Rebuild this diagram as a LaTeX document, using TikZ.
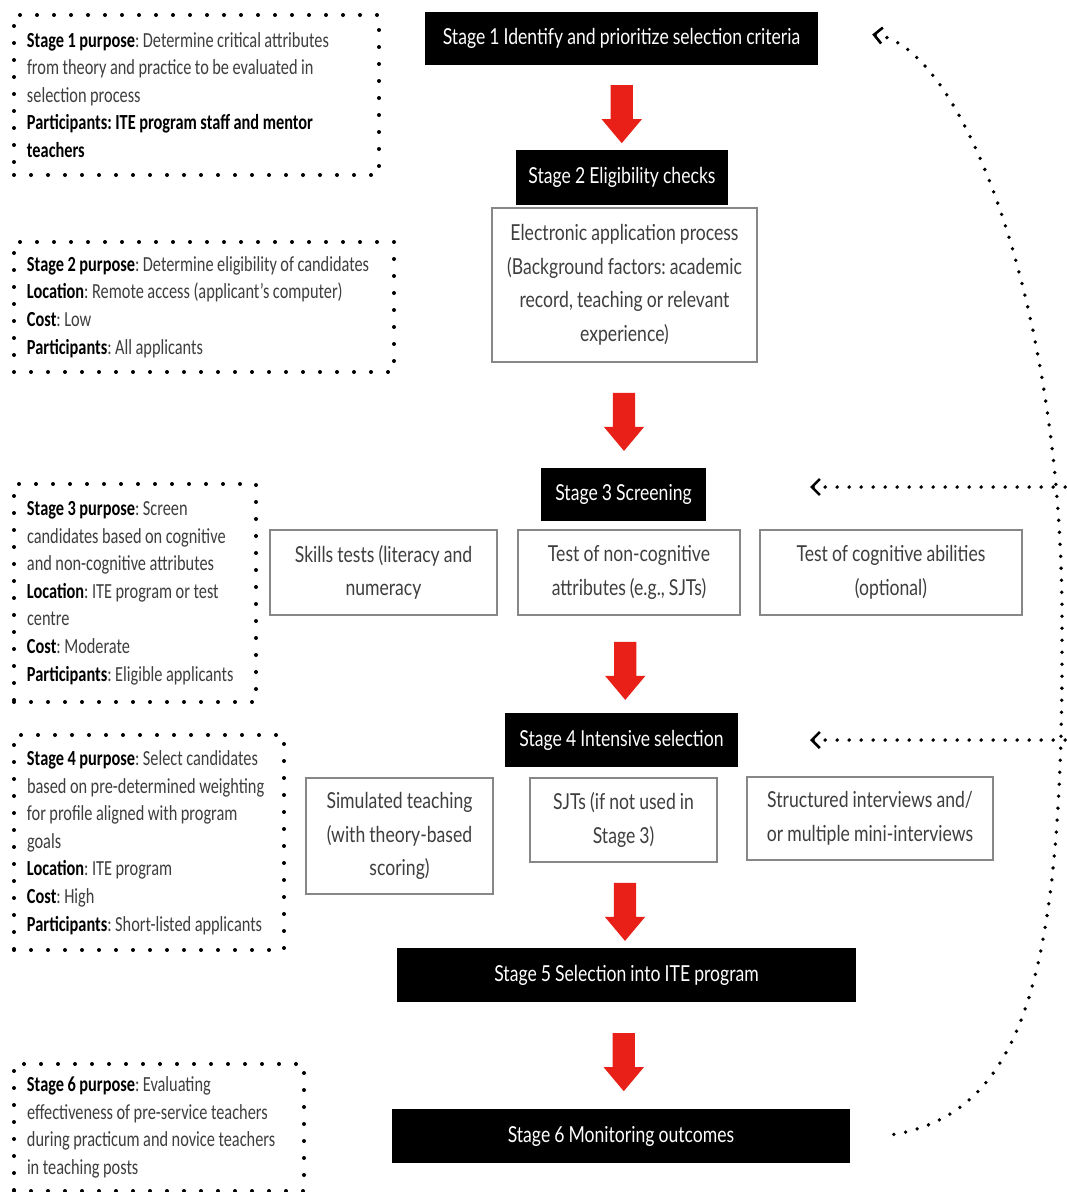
\documentclass[tikz,border=0pt]{standalone}
\usepackage{fontspec}
\setmainfont[FakeStretch=0.76,WordSpace=0.95]{Carlito}
\newfontfamily\gillfont[FakeStretch=0.8,WordSpace=0.9]{Lato}
\usetikzlibrary{
  arrows.meta,
  calc,
  positioning,
  shapes.arrows,
}
\definecolor{arrowred}{RGB}{232,32,24}
\definecolor{textgrey}{RGB}{62,62,62}
\definecolor{boxgrey}{RGB}{135,135,135}
\newcommand{\hd}[1]{\textcolor{black}{\textbf{#1}}}
\frenchspacing
\tikzstyle{stagebox} = [
  rectangle,
  fill=black,
  text=white,
  inner sep=0,
  font=\gillfont\fontsize{22}{26}\selectfont,
]
\tikzstyle{taskbox} = [
  rectangle,
  draw=boxgrey,
  line width=1.2pt,
  text=textgrey,
  align=flush center,
  inner sep=0,
  font=\gillfont\fontsize{22}{33.5}\selectfont,
]
\tikzstyle{notebox} = [
  rectangle,
  draw=black,
  line width=4pt,
  dash pattern=on 0pt off 17pt,
  line cap=round,
  anchor=north west,
  align=flush left,
  text=textgrey,
  inner xsep=13,
  inner ysep=0,
  font=\fontsize{21.5}{27.6}\selectfont,
]
\tikzstyle{redarrow} = [
  single arrow,
  fill=arrowred,
  draw=none,
  rotate=-90,
  minimum height=58,
  single arrow head extend=9,
  single arrow tip angle=80,
  inner sep=11,
]
\tikzstyle{feedback} = [
  {Straight Barb[length=8pt,width=16pt,line width=2.6pt]}-,
  line width=3.8pt,
  dash pattern=on 0pt off 12pt,
  line cap=round,
]

\begin{document}
\begin{tikzpicture}[x=1pt,y=-1pt]

  \useasboundingbox[fill=white] (0,0) rectangle (1067,1192);

  % stages down the middle
  \node[stagebox,minimum width=393,minimum height=53] (s1) at (621.5,38.5) {Stage 1 Identify and prioritize selection criteria};
  \node[stagebox,minimum width=212,minimum height=55] (s2) at (622,177.5) {Stage 2 Eligibility checks};
  \node[taskbox,minimum width=265,minimum height=154] (app) at (624.5,285) {Electronic application process\\(Background factors: academic\\record, teaching or relevant\\experience)};
  \node[stagebox,minimum width=165,minimum height=53] (s3) at (623.5,494.5) {Stage 3 Screening};
  \node[taskbox,minimum width=227,minimum height=85] (skills) at (383.5,572.5) {Skills tests (literacy and\\numeracy};
  \node[taskbox,minimum width=222,minimum height=85] (noncog) at (629,572.5) {Test of non-cognitive\\attributes (e.g., SJTs)};
  \node[taskbox,minimum width=262,minimum height=85] (cog) at (891,572.5) {Test of cognitive abilities\\(optional)};
  \node[stagebox,minimum width=233,minimum height=54] (s4) at (621.5,740) {Stage 4 Intensive selection};
  \node[taskbox,minimum width=187,minimum height=116] (sim) at (399.5,836) {Simulated teaching\\(with theory-based\\scoring)};
  \node[taskbox,minimum width=187,minimum height=84] (sjt) at (623.5,820) {SJTs (if not used in\\Stage 3)};
  \node[taskbox,minimum width=246,minimum height=83] (interv) at (870,818.5) {Structured interviews and/\\or multiple mini-interviews};
  \node[stagebox,minimum width=459,minimum height=54] (s5) at (626.5,975) {Stage 5 Selection into ITE program};
  \node[stagebox,minimum width=458,minimum height=54] (s6) at (621,1136) {Stage 6 Monitoring outcomes};

  % red arrows between stages
  \node[redarrow] (a1) at ($(s1.south)!0.5!(s2.north)$) {};
  \node[redarrow] (a2) at ($(app.south)!0.5!(s3.north)$) {};
  \node[redarrow] (a3) at ($(noncog.south)!0.5!(s4.north)$) {};
  \node[redarrow] (a4) at ($(sjt.south)!0.5!(s5.north)$) {};
  \node[redarrow] (a5) at ($(s5.south)!0.5!(s6.north)$) {};

  % notes on the left
  \node[notebox,text width=339,minimum height=160] (n1) at (12,13) {\hd{Stage 1 purpose}: Determine critical attributes\\from theory and practice to be evaluated in\\selection process\\\hd{Participants: ITE program staff and mentor}\\\hd{teachers}};
  \node[notebox,text width=354,minimum height=130] (n2) at (12,240) {\hd{Stage 2 purpose}: Determine eligibility of candidates\\\hd{Location}: Remote access (applicant's computer)\\\hd{Cost}: Low\\\hd{Participants}: All applicants};
  \node[notebox,text width=216,minimum height=218] (n3) at (12,482) {\hd{Stage 3 purpose}: Screen\\candidates based on cognitive\\and non-cognitive attributes\\\hd{Location}: ITE program or test\\centre\\\hd{Cost}: Moderate\\\hd{Participants}: Eligible applicants};
  \node[notebox,text width=244,minimum height=215] (n4) at (12,733) {\hd{Stage 4 purpose}: Select candidates\\based on pre-determined weighting\\for profile aligned with program\\goals\\\hd{Location}: ITE program\\\hd{Cost}: High\\\hd{Participants}: Short-listed applicants};
  \node[notebox,text width=264,minimum height=127] (n6) at (12,1062) {\hd{Stage 6 purpose}: Evaluating\\effectiveness of pre-service teachers\\during practicum and novice teachers\\in teaching posts};

  % feedback from monitoring
  \coordinate (fb1) at ($(s1.east)+(54,-4)$);
  \coordinate (fb6) at ($(s6.east)+(32,0)$);
  \coordinate (in3) at (1067,487);
  \coordinate (to3) at (810,487);
  \coordinate (in4) at (1067,740);
  \coordinate (to4) at (810,740);
  \draw[feedback] (fb1) .. controls (960,44) and (1062,300) .. (1062,620) .. controls (1064,960) and (1030,1120) .. (fb6);
  \draw[feedback] (to3) -- (in3);
  \draw[feedback] (to4) -- (in4);

\end{tikzpicture}
\end{document}
